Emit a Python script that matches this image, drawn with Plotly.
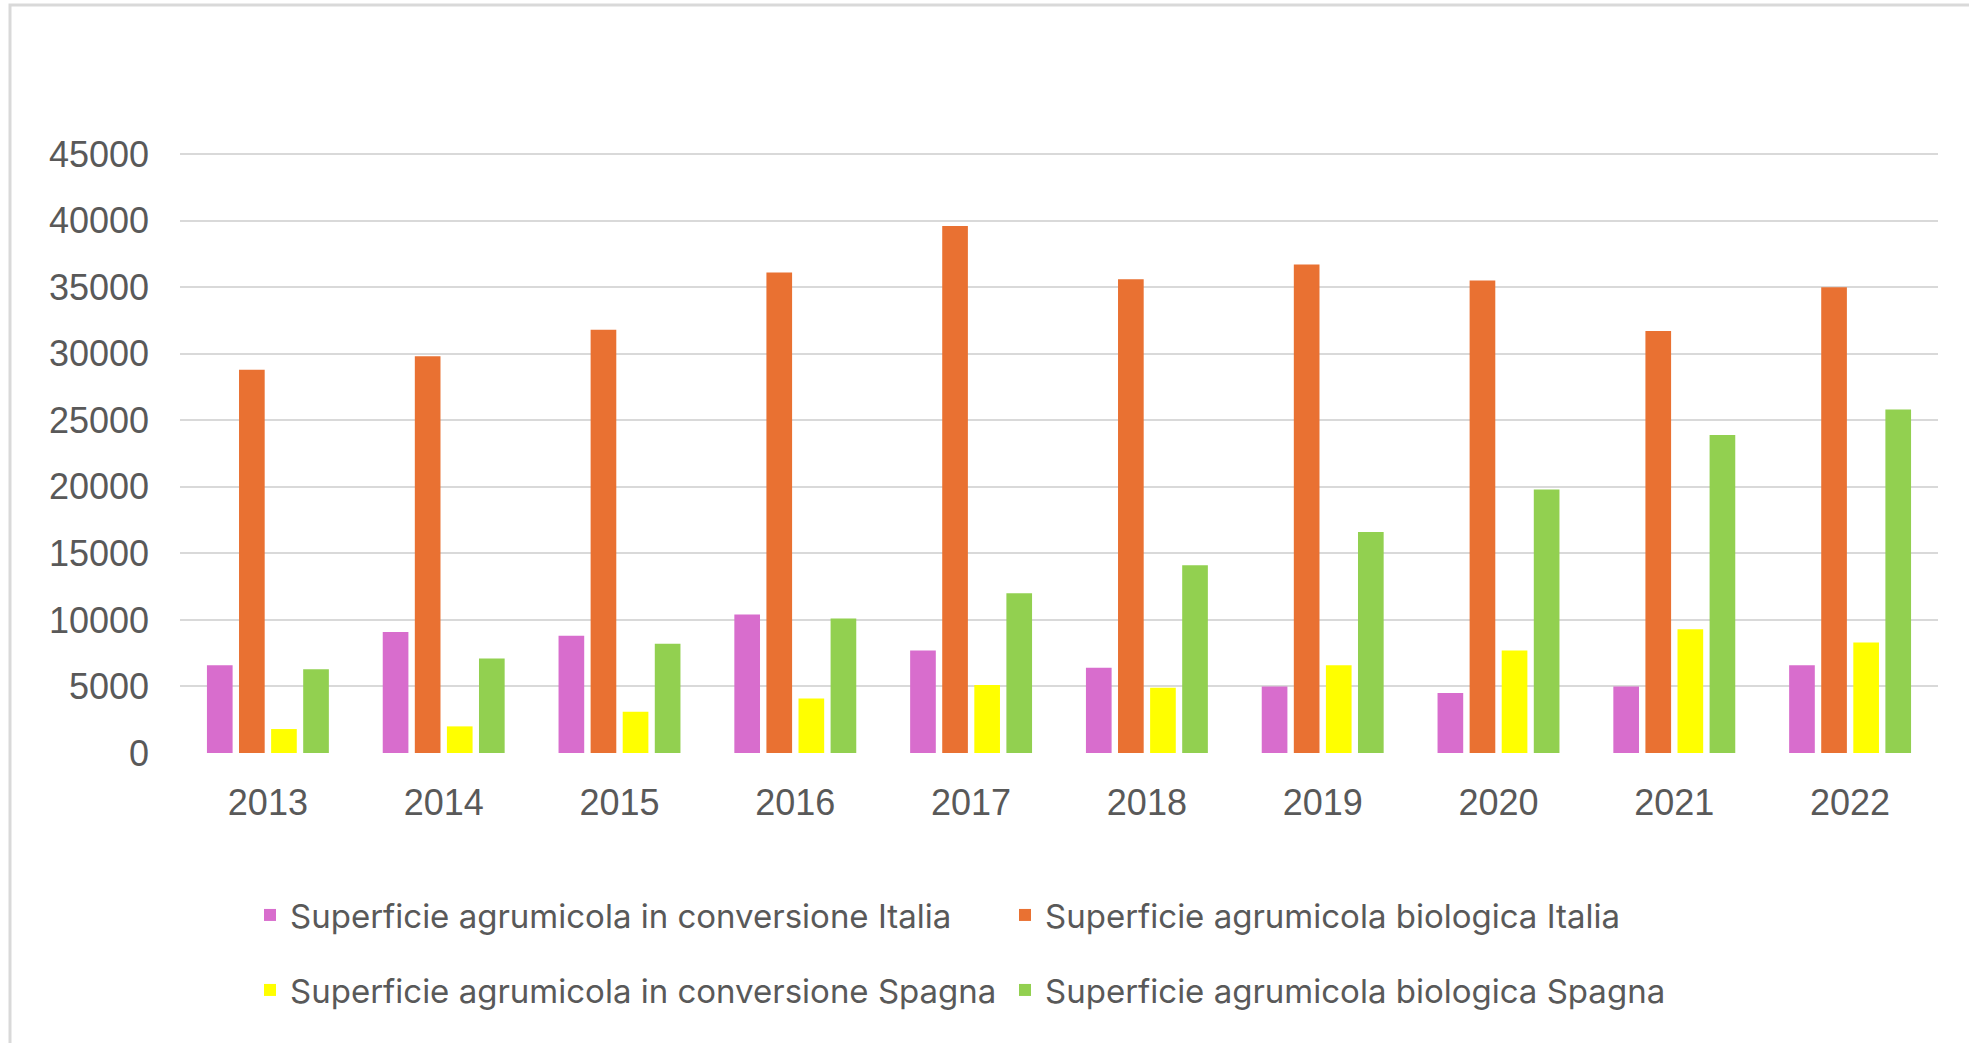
import plotly.graph_objects as go

years = ["2013", "2014", "2015", "2016", "2017", "2018", "2019", "2020", "2021", "2022"]
conv_italia = [6600, 9100, 8800, 10400, 7700, 6400, 5000, 4500, 5000, 6600]
bio_italia = [28800, 29800, 31800, 36100, 39600, 35600, 36700, 35500, 31700, 35000]
conv_spagna = [1800, 2000, 3100, 4100, 5100, 4900, 6600, 7700, 9300, 8300]
bio_spagna = [6300, 7100, 8200, 10100, 12000, 14100, 16600, 19800, 23900, 25800]
series_names = [
    "Superficie agrumicola in conversione Italia",
    "Superficie agrumicola biologica Italia",
    "Superficie agrumicola in conversione Spagna",
    "Superficie agrumicola biologica Spagna",
]
y_ticks = [0, 5000, 10000, 15000, 20000, 25000, 30000, 35000, 40000, 45000]

colors = ["#D86DCD", "#E97132", "#FFFF00", "#92D050"]
legends = ["legend", "legend", "legend2", "legend2"]
W, H = 1969, 1043
L, R, T, B = 180, 31, 153, 290
pw, ph = W - L - R, H - T - B

fig = go.Figure()
for name, vals, col, lg in zip(series_names, [conv_italia, bio_italia, conv_spagna, bio_spagna], colors, legends):
    fig.add_trace(go.Bar(x=years, y=vals, name=name, marker=dict(color=col, line=dict(width=0)), legend=lg))

def px_x(p):
    return (p - L) / pw

def px_y(p):
    return (H - B - p) / ph

font_tick = dict(family="Liberation Sans, Arial, sans-serif", size=36, color="#595959")
font_leg = dict(family="Inter, sans-serif", size=33, color="#595959")

fig.update_layout(
    width=W, height=H,
    margin=dict(l=L, r=R, t=T, b=B, pad=0),
    paper_bgcolor="white", plot_bgcolor="white",
    barmode="group", bargap=0.27, bargroupgap=0.2,
    xaxis=dict(type="category", tickfont=font_tick, showgrid=False, zeroline=False,
               showline=False, ticks="", ticklabelstandoff=25),
    yaxis=dict(range=[0, 45080], tickvals=y_ticks, ticktext=[str(v) for v in y_ticks],
               tickfont=font_tick, showgrid=True, gridcolor="#D9D9D9", gridwidth=2,
               zeroline=False, showline=False, ticks="", ticklabelstandoff=30),
    legend=dict(orientation="h", x=px_x(250), xanchor="left", y=px_y(915), yanchor="middle",
                font=font_leg, entrywidth=710, itemwidth=30, bgcolor="rgba(0,0,0,0)"),
    legend2=dict(orientation="h", x=px_x(250), xanchor="left", y=px_y(990), yanchor="middle",
                 font=font_leg, entrywidth=710, itemwidth=30, bgcolor="rgba(0,0,0,0)"),
    shapes=[dict(type="rect", xref="paper", yref="paper",
                 x0=px_x(10), x1=px_x(W + 20), y0=px_y(H + 20), y1=px_y(5),
                 line=dict(color="#D9D9D9", width=3), fillcolor="rgba(0,0,0,0)", layer="below")],
    showlegend=True,
)

fig.write_html("out.html", config={"displayModeBar": False},
               post_script="document.body.style.margin='0';")
